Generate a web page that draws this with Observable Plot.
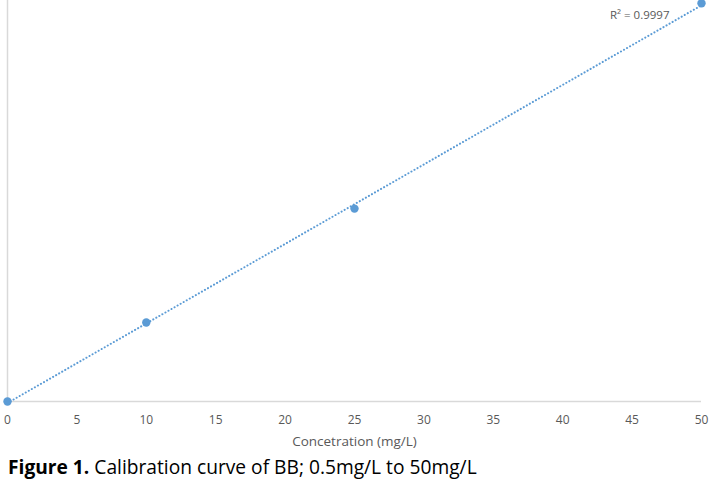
<!DOCTYPE html>
<html>
<head>
<meta charset="utf-8">
<script src="https://cdn.jsdelivr.net/npm/d3@7"></script>
<script src="https://cdn.jsdelivr.net/npm/@observablehq/plot@0.6"></script>
<style>
  html, body { margin: 0; padding: 0; background: #fff; }
  #chart { width: 713px; height: 452px; }
  #caption { font-family: "Open Sans", "Noto Sans", sans-serif; font-size: 19.2px; line-height: 24px; color: #000; margin: 3px 0 0 8px; white-space: nowrap; }
</style>
</head>
<body>
<div id="chart"></div>
<div id="caption"><b>Figure 1.</b> Calibration curve of BB; 0.5mg/L to 50mg/L</div>
<script>
// Data (y axis has no labels: relative response)
const concentration = [0, 10, 25, 50];
const response = [0, 0.197, 0.481, 0.993];
const xTicks = [0, 5, 10, 15, 20, 25, 30, 35, 40, 45, 50];
const r2Label = ["R² = 0.9997"];
const xTitle = "Concetration (mg/L)";

const data = concentration.map((c, i) => ({x: c, y: response[i]}));
const blue = "#5b9bd5";
const grey = "#595959";

const chart = Plot.plot({
  width: 713,
  height: 452,
  marginLeft: 7,
  marginRight: 12,
  marginTop: 0,
  marginBottom: 51,
  style: {fontFamily: "'Open Sans', 'Noto Sans', sans-serif", fontSize: "12px", color: grey, overflow: "visible"},
  x: {domain: [0, 50], ticks: xTicks, tickSize: 0, tickPadding: 14, label: null},
  y: {domain: [0, 1], axis: null},
  marks: [
    Plot.ruleX([0], {stroke: "#d9d9d9", strokeWidth: 1.5}),
    Plot.ruleY([0], {stroke: "#d9d9d9", strokeWidth: 1.5}),
    Plot.linearRegressionY(data, {x: "x", y: "y", ci: 0, stroke: blue, strokeWidth: 2, strokeDasharray: "0.1,3.4", strokeLinecap: "round"}),
    Plot.dot(data, {x: "x", y: "y", r: 4.2, fill: blue, stroke: null}),
    Plot.text(r2Label, {text: d => d, frameAnchor: "top-right", dx: -32, dy: 10, fill: grey, fontSize: 11.5, textAnchor: "end"}),
    Plot.text([xTitle], {text: d => d, frameAnchor: "bottom", dy: 44, fill: grey, fontSize: 13.5})
  ]
});
document.getElementById("chart").append(chart);
</script>
</body>
</html>
